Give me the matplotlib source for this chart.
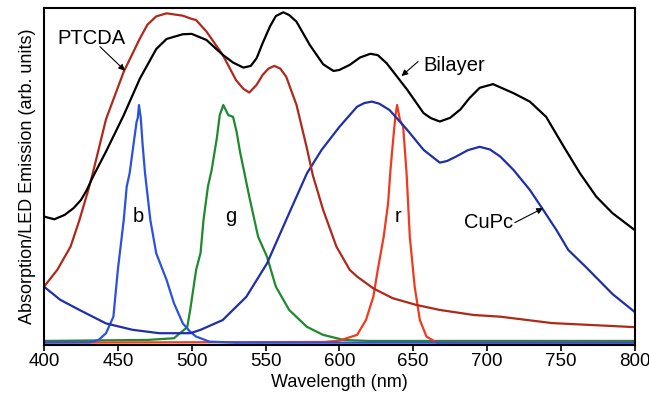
import matplotlib.pyplot as plt
import numpy as np

plt.rcParams['font.family'] = ['Liberation Sans', 'DejaVu Sans']

# Bilayer absorption (black)
wl_bil = [400, 407, 414, 420, 425, 429, 433, 442, 454, 465, 476, 483, 494, 500, 510, 521, 528, 535,
          540, 544, 548, 553, 557, 562, 566, 571, 580, 589, 596, 600, 607, 614, 621, 626, 632, 646,
          657, 662, 668, 675, 682, 688, 695, 704, 718, 729, 740, 752, 763, 774, 785, 800]
bil = [38.1, 37.3, 38.6, 40.6, 43.0, 46.0, 49.8, 57.4, 68.2, 79.1, 87.8, 90.8, 92.2, 92.3, 90.5, 86.1,
       83.8, 82.3, 82.8, 85.1, 89.5, 94.5, 97.6, 98.7, 97.9, 95.9, 89.0, 83.3, 81.3, 81.6, 83.1, 85.3,
       86.4, 86.0, 83.6, 75.7, 68.8, 67.3, 66.3, 67.4, 69.9, 73.2, 76.3, 77.4, 74.7, 72.2, 67.7, 58.8,
       50.9, 44.0, 39.1, 34.1]

# PTCDA absorption (dark red)
wl_ptc = [400, 409, 418, 424, 430, 433, 442, 454, 465, 470, 476, 483, 494, 499, 503, 510, 521, 530,
          535, 539, 544, 548, 552, 556, 560, 564, 571, 578, 582, 589, 598, 607, 612, 623, 636, 652,
          668, 691, 709, 744, 800]
ptc = [17.3, 22.3, 29.2, 37.1, 46.0, 50.9, 67.0, 81.1, 91.0, 95.0, 97.5, 98.4, 97.7, 96.9, 96.4, 93.0,
       86.1, 78.6, 76.0, 74.9, 77.2, 80.1, 82.0, 82.8, 82.0, 79.6, 71.2, 58.4, 50.4, 40.1, 29.2, 22.3,
       20.3, 16.8, 13.9, 11.9, 10.4, 8.9, 8.4, 6.5, 5.3]

# CuPc absorption (dark blue)
wl_cu = [400, 411, 424, 442, 460, 478, 492, 499, 506, 521, 537, 551, 566, 578, 588, 600, 612, 617,
         622, 627, 634, 646, 657, 668, 673, 679, 687, 695, 702, 709, 718, 729, 738, 747, 755, 767,
         785, 800]
cu = [17.3, 13.4, 10.4, 6.4, 4.5, 3.5, 3.5, 3.5, 4.5, 7.4, 14.3, 24.2, 39.1, 50.9, 57.9, 64.7, 70.7,
      71.8, 72.2, 71.6, 69.7, 63.8, 57.9, 54.1, 54.6, 55.9, 57.8, 58.8, 58.0, 55.9, 51.9, 46.0, 40.1,
      34.1, 28.2, 23.1, 15.1, 9.8]

# LED emission spectra b, g, r
wl_b = [400, 431, 437, 442, 447, 450, 454, 456, 458, 461, 462.7, 463.5, 464.3, 465.5, 466.8, 468.4,
        472, 476, 483, 488, 494, 499, 503, 512, 530, 800]
led_b = [0.8, 0.8, 1.5, 3.5, 8.4, 22.3, 37.1, 47.0, 51.0, 60.8, 66.2, 67.4, 71.2, 67.4, 59.3, 51.0,
         37.1, 27.2, 19.3, 12.4, 6.4, 3.9, 2.5, 1.0, 0.7, 0.7]

wl_g = [400, 470, 488, 497, 499, 503, 506, 508, 511, 513.5, 517, 519, 521.4, 524.8, 528, 530.4,
        532.7, 536, 539, 545, 551, 557, 566, 578, 589, 603, 620, 800]
led_g = [1.2, 1.5, 2.0, 5.3, 10.4, 22.3, 27.3, 37.1, 47.0, 51.9, 61.3, 68.2, 71.2, 68.2, 67.7, 63.3,
         57.4, 50.4, 44.0, 32.1, 26.2, 17.3, 10.4, 5.4, 3.0, 1.5, 1.2, 1.2]

wl_r = [400, 590, 600, 612, 618, 623, 626, 630, 633, 634.6, 636.4, 638, 639.1, 641, 643.2, 645.5,
        647.7, 651, 654.5, 659, 666, 800]
led_r = [0.7, 0.9, 1.3, 3.0, 7.4, 14.3, 22.3, 32.1, 42.0, 51.9, 60.8, 68.2, 71.2, 66.8, 64.8, 51.0,
         32.1, 17.3, 7.4, 2.5, 0.7, 0.7]

fig = plt.figure(figsize=(6.49, 3.97), dpi=100)
ax = fig.add_axes([0.0678, 0.131, 0.9102, 0.849])

lw = 1.6
ax.plot(wl_g, led_g, color='#1e8a2e', lw=lw)
ax.plot(wl_r, led_r, color='#f03a1e', lw=lw)
ax.plot(wl_b, led_b, color='#2a52de', lw=lw)
ax.plot(wl_cu, cu, color='#1f2fa8', lw=lw)
ax.plot(wl_ptc, ptc, color='#b0281a', lw=lw)
ax.plot(wl_bil, bil, color='black', lw=lw)

ax.set_xlim(400, 800)
ax.set_ylim(0, 100)
ax.set_xticks(np.arange(400, 801, 50))
ax.set_yticks([])
ax.tick_params(axis='x', direction='out', length=4, width=1.2, labelsize=13.5, pad=2)
for s in ax.spines.values():
    s.set_linewidth(1.5)

ax.set_xlabel('Wavelength (nm)', fontsize=13, labelpad=3)
ax.set_ylabel('Absorption/LED Emission (arb. units)', fontsize=13, labelpad=6)

arr = dict(arrowstyle='-|>', color='black', lw=0.8, mutation_scale=9, shrinkA=0, shrinkB=0)
ax.text(409, 89.2, 'PTCDA', fontsize=14.5, ha='left', va='baseline')
ax.annotate('', xy=(454.8, 81.4), xytext=(437.9, 88.5), arrowprops=arr)
ax.text(656.7, 81.4, 'Bilayer', fontsize=14.5, ha='left', va='baseline')
ax.annotate('', xy=(642.1, 79.8), xytext=(653.3, 84.1), arrowprops=arr)
ax.text(717.4, 34.7, 'CuPc', fontsize=14.5, ha='right', va='baseline')
ax.annotate('', xy=(737.9, 40.6), xytext=(718.8, 36.3), arrowprops=arr)
ax.text(463.8, 36.6, 'b', fontsize=14.5, ha='center', va='baseline')
ax.text(526.4, 36.6, 'g', fontsize=14.5, ha='center', va='baseline')
ax.text(639.8, 36.6, 'r', fontsize=14.5, ha='center', va='baseline')

fig.savefig('out.png', dpi=100)
